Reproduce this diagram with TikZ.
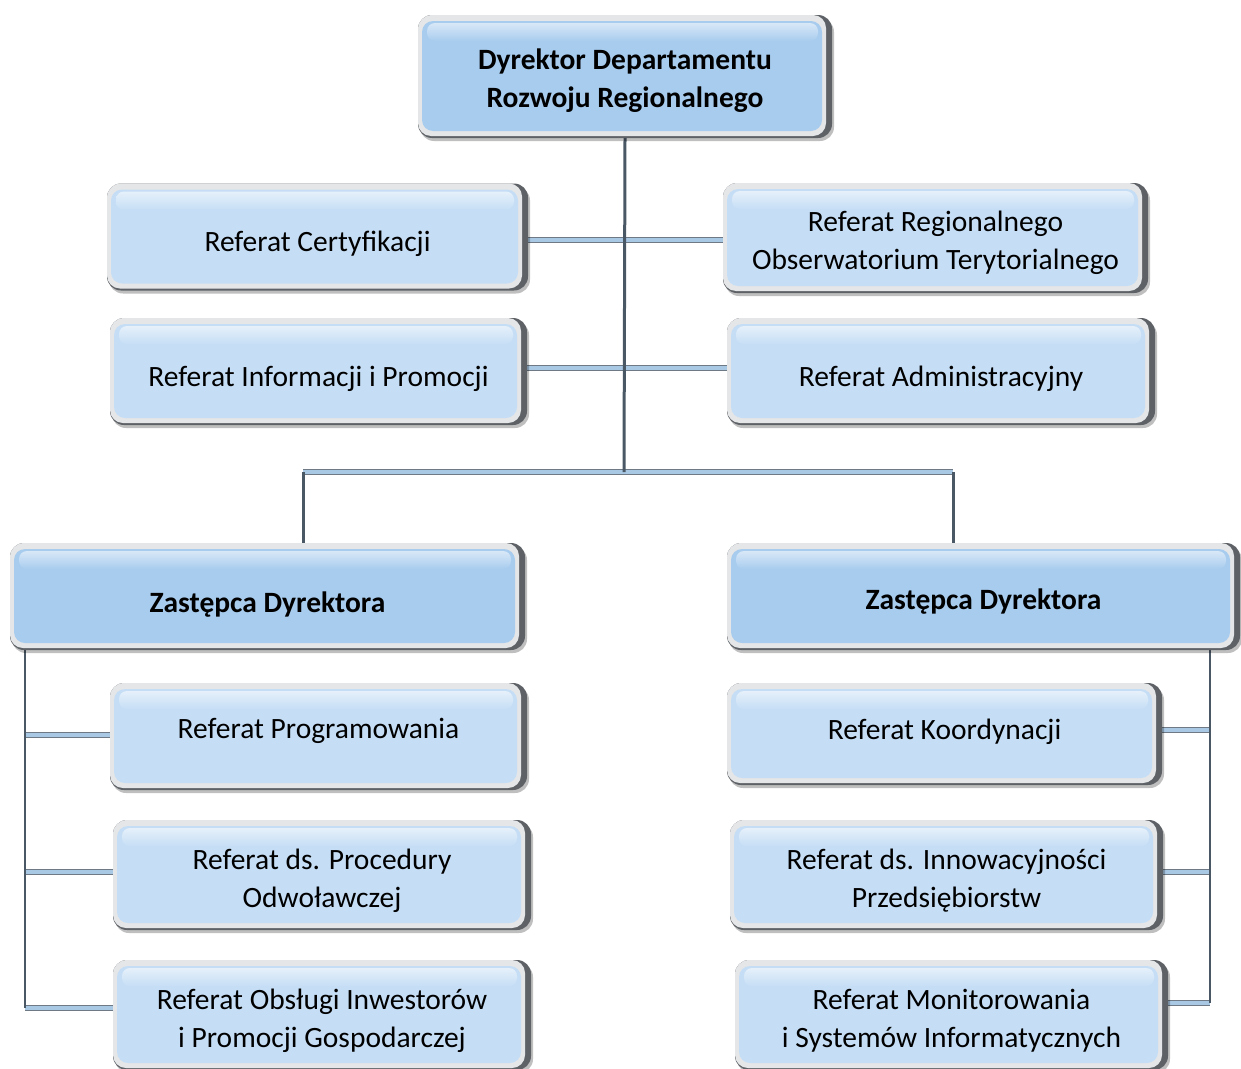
\documentclass[tikz,border=0pt]{standalone}
\usepackage{fontspec}
\setmainfont{Carlito}
\usetikzlibrary{shadows,calc}
\definecolor{boxlight}{HTML}{C6DEF5}
\definecolor{boxmain}{HTML}{A8CCEE}
\definecolor{spine}{HTML}{4A5866}
\definecolor{barfill}{HTML}{A9C8E4}
\definecolor{rimdark}{HTML}{5E6266}
\definecolor{rimlight}{HTML}{E4E6E8}
\pgfdeclarelayer{back}
\pgfdeclarelayer{bg}
\pgfsetlayers{back,bg,main}
\newcommand\boxtext[2][6pt]{\raisebox{-#1}[\height][\depth]{\begin{tabular}{@{}c@{}}#2\end{tabular}}}
\tikzset{
  orgbox/.style={rectangle, rounded corners=14pt, inner sep=0pt, align=center,
    fill=rimdark,
    drop shadow={shadow xshift=2pt, shadow yshift=-3pt, opacity=0.25, fill=black},
    path picture={
      \fill[rimlight, rounded corners=13pt] (path picture bounding box.north west) rectangle ($(path picture bounding box.south east)+(-6pt,2pt)$);
      \fill[#1, rounded corners=11pt] ($(path picture bounding box.north west)+(4pt,-6pt)$) rectangle ($(path picture bounding box.south east)+(-10pt,7pt)$);
      \shade[top color=white!55!#1, bottom color=#1, rounded corners=8pt] ($(path picture bounding box.north west)+(9pt,-8pt)$) rectangle ($(path picture bounding box.north east)+(-14pt,-26pt)$);
    },
    font=\fontsize{29.5}{38}\selectfont, text=black},
  lightbox/.style={orgbox=boxlight},
  mainbox/.style={orgbox=boxmain, font=\fontsize{29.5}{38}\selectfont\bfseries},
  spineline/.style={draw=spine, line width=3pt},
  thinspine/.style={draw=spine, line width=2pt},
  barline/.style={draw=spine!80, line width=1.2pt, double=barfill, double distance=3.5pt}
}
\begin{document}
\begin{tikzpicture}[x=1pt, y=-1pt]
\useasboundingbox (0,0) rectangle (1241,1068);
\begin{pgfonlayer}{back}
\fill[white] (0,0) rectangle (1241,1068);
\end{pgfonlayer}

\node[mainbox, minimum width=414, minimum height=123] (dir) at (625,76.5) {\boxtext[4.5pt]{Dyrektor Departamentu\\Rozwoju Regionalnego}};
\node[lightbox, minimum width=421, minimum height=107] (cert) at (317.5,237) {\boxtext[7pt]{Referat Certyfikacji}};
\node[lightbox, minimum width=425, minimum height=110] (obs) at (935.5,238) {\boxtext[5pt]{Referat Regionalnego\\Obserwatorium Terytorialnego}};
\node[lightbox, minimum width=417, minimum height=107] (info) at (318.5,371.5) {\boxtext[7pt]{Referat Informacji i Promocji}};
\node[lightbox, minimum width=428, minimum height=107] (adm) at (941,371.5) {\boxtext[7pt]{Referat Administracyjny}};
\node[mainbox, minimum width=515, minimum height=107] (zl) at (267.5,596.5) {\boxtext[8pt]{Zastępca Dyrektora}};
\node[mainbox, minimum width=513, minimum height=107] (zr) at (983.5,596.5) {\boxtext[5pt]{Zastępca Dyrektora}};
\node[lightbox, minimum width=417, minimum height=107] (prog) at (318.5,736.5) {\boxtext[-6pt]{Referat Programowania}};
\node[lightbox, minimum width=418, minimum height=110] (proc) at (322,875) {\boxtext{Referat ds. Procedury\\Odwoławczej}};
\node[lightbox, minimum width=418, minimum height=110] (obsl) at (322,1015) {\boxtext{Referat Obsługi Inwestorów\\i Promocji Gospodarczej}};
\node[lightbox, minimum width=435, minimum height=102] (koord) at (944.5,734) {\boxtext[-2pt]{Referat Koordynacji}};
\node[lightbox, minimum width=433, minimum height=110] (innow) at (946.5,875) {\boxtext{Referat ds. Innowacyjności\\Przedsiębiorstw}};
\node[lightbox, minimum width=433, minimum height=110] (monit) at (951.5,1015) {\boxtext{Referat Monitorowania\\i Systemów Informatycznych}};

\coordinate (jc) at (624,472);
\coordinate (jl) at (303,472);
\coordinate (jr) at (953,472);
\coordinate (lt) at (25,650);
\coordinate (rt) at (1210,650);
\coordinate (y1) at (0,240);
\coordinate (y2) at (0,368);
\coordinate (yl1) at (0,735);
\coordinate (yl2) at (0,872);
\coordinate (yl3) at (0,1008);
\coordinate (yr1) at (0,730);
\coordinate (yr2) at (0,872);
\coordinate (yr3) at (0,1003);

\begin{pgfonlayer}{bg}
  \draw[barline] (cert.east |- y1) -- (obs.west |- y1);
  \draw[barline] (info.east |- y2) -- (adm.west |- y2);
  \draw[barline] (jl) -- (jr);
  \draw[barline] (lt |- yl1) -- (prog.west |- yl1);
  \draw[barline] (lt |- yl2) -- (proc.west |- yl2);
  \draw[barline] (lt |- yl3) -- (obsl.west |- yl3);
  \draw[barline] (koord.east |- yr1) -- (rt |- yr1);
  \draw[barline] (innow.east |- yr2) -- (rt |- yr2);
  \draw[barline] (monit.east |- yr3) -- (rt |- yr3);
  \draw[spineline] (dir.south) -- (jc);
  \draw[spineline] (jl) -- (jl |- zl.north);
  \draw[spineline] (jr) -- (jr |- zr.north);
  \draw[thinspine] (lt) -- (lt |- yl3);
  \draw[thinspine] (rt) -- (rt |- yr3);
\end{pgfonlayer}
\end{tikzpicture}
\end{document}
